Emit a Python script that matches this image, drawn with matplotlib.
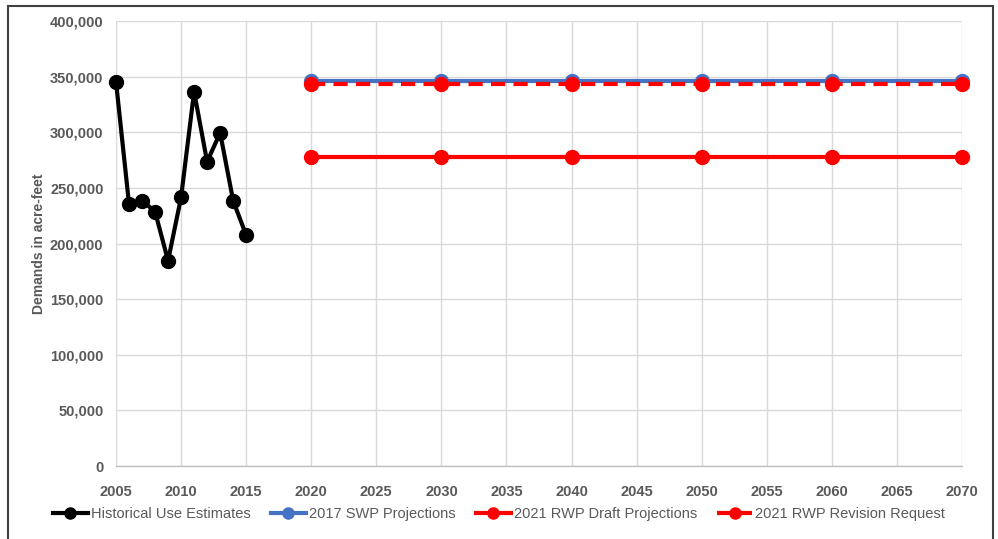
import matplotlib
matplotlib.use("Agg")
import matplotlib.pyplot as plt
from matplotlib.patches import Rectangle
from matplotlib.ticker import FuncFormatter, MultipleLocator

hist_years = [2005, 2006, 2007, 2008, 2009, 2010, 2011, 2012, 2013, 2014, 2015]
hist_values = [345500, 235500, 238500, 228700, 184500, 241500, 336500, 273500, 299500, 238500, 207500]

proj_years = [2020, 2030, 2040, 2050, 2060, 2070]
swp2017 = [346000, 346000, 346000, 346000, 346000, 346000]
rwp_draft = [278000, 278000, 278000, 278000, 278000, 278000]
rwp_revision = [343000, 343000, 343000, 343000, 343000, 343000]

labels = ["Historical Use Estimates", "2017 SWP Projections",
          "2021 RWP Draft Projections", "2021 RWP Revision Request"]

plt.rcParams['font.family'] = ['Liberation Sans', 'DejaVu Sans']
gray = '#595959'

fig = plt.figure(figsize=(9.98, 5.39), dpi=100)
ax = fig.add_axes([116/998, 1-466/539, (962-116)/998, (466-21)/539])

lw = 3
ms = 10
ax.plot(hist_years, hist_values, color='black', lw=lw, marker='o', ms=ms, label=labels[0], zorder=5, clip_on=False)
ax.plot(proj_years, swp2017, color='#4472C4', lw=lw, marker='o', ms=ms, label=labels[1], zorder=3, clip_on=False)
ax.plot(proj_years, rwp_draft, color='#FF0000', lw=lw, marker='o', ms=ms, label=labels[2], zorder=4, clip_on=False)
ax.plot(proj_years, rwp_revision, color='#FF0000', lw=lw, marker='o', ms=ms, label=labels[3],
        dashes=(3.4, 2.0), zorder=4, clip_on=False)

ax.set_xlim(2005, 2070)
ax.set_ylim(0, 400000)
ax.xaxis.set_major_locator(MultipleLocator(5))
ax.yaxis.set_major_locator(MultipleLocator(50000))
ax.yaxis.set_major_formatter(FuncFormatter(lambda v, p: f"{int(v):,}"))
ax.grid(True, color='#D9D9D9', lw=1)
ax.set_axisbelow(True)
for s in ['top', 'right', 'left']:
    ax.spines[s].set_visible(False)
ax.spines['bottom'].set_color('#BFBFBF')
ax.spines['bottom'].set_linewidth(1)
ax.tick_params(length=0, labelsize=10.5, labelcolor=gray)
ax.tick_params(axis='x', pad=14)
ax.tick_params(axis='y', pad=9)
for t in ax.get_xticklabels() + ax.get_yticklabels():
    t.set_fontweight('bold')
ax.set_ylabel("Demands in acre-feet", fontsize=10, fontweight='bold', color=gray, labelpad=3)

fig.legend(loc='center', bbox_to_anchor=(0.5, 1-514/539), ncol=4, frameon=False,
           fontsize=10.5, labelcolor=gray, handlelength=2.4, handletextpad=0.2,
           columnspacing=1.4, markerscale=0.8)

fig.patches.append(Rectangle((8/998, -0.01), (993-8)/998, 1.01-6/539, transform=fig.transFigure,
                             fill=False, edgecolor='#404040', lw=1.5))

fig.savefig("out.png", dpi=100)
